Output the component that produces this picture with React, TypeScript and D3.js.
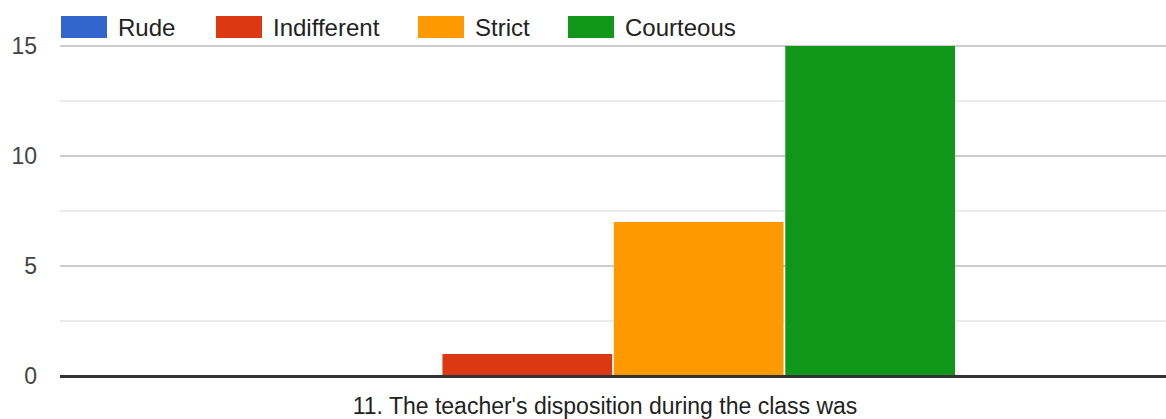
import React from "react";
import * as d3 from "d3";

const categories = ["Rude", "Indifferent", "Strict", "Courteous"];
const values = [0, 1, 7, 15];
const colors = ["#3366cc", "#dc3912", "#ff9900", "#109618"];
const yTicks = [0, 5, 10, 15];
const yMinorTicks = [2.5, 7.5, 12.5];
const xTitle = "11. The teacher's disposition during the class was";
const legendX = [61, 216, 418, 568];

export default function App() {
  const W = 1166, H = 419;
  const left = 60, right = 1166, top = 46, bottom = 376;
  const y = d3.scaleLinear().domain([0, 15]).range([bottom, top]);
  const center = (left + right) / 2;
  const groupW = 684;
  const x = d3.scaleBand().domain(categories).range([center - groupW / 2, center + groupW / 2]).paddingInner(0.01);
  const font = "Arial, 'Liberation Sans', sans-serif";
  return (
    <svg width={W} height={H} style={{ position: "absolute", left: 0, top: 0 }} fontFamily={font}>
      <rect width={W} height={H} fill="#fff" />
      {yMinorTicks.map((t) => (
        <line key={"m" + t} x1={left} x2={right} y1={y(t)} y2={y(t)} stroke="#ebebeb" strokeWidth={2} />
      ))}
      {yTicks.filter((t) => t !== 0).map((t) => (
        <line key={"g" + t} x1={left} x2={right} y1={y(t)} y2={y(t)} stroke="#cccccc" strokeWidth={2} />
      ))}
      {yTicks.map((t) => (
        <text key={"t" + t} x={37} y={y(t) + 8} textAnchor="end" fontSize={23} fill="#444">
          {t}
        </text>
      ))}
      {categories.map((c, i) => (
        <rect key={c} x={x(c)} y={y(values[i])} width={x.bandwidth()} height={bottom - y(values[i])} fill={colors[i]} />
      ))}
      <line x1={left} x2={right} y1={bottom + 0.5} y2={bottom + 0.5} stroke="#333" strokeWidth={3} />
      <text x={center - 8} y={414} textAnchor="middle" fontSize={23} fill="#222">
        {xTitle}
      </text>
      {categories.map((c, i) => (
        <g key={"l" + c}>
          <rect x={legendX[i]} y={16} width={46} height={22} fill={colors[i]} />
          <text x={legendX[i] + 57} y={36} fontSize={24} fill="#222">
            {c}
          </text>
        </g>
      ))}
    </svg>
  );
}
